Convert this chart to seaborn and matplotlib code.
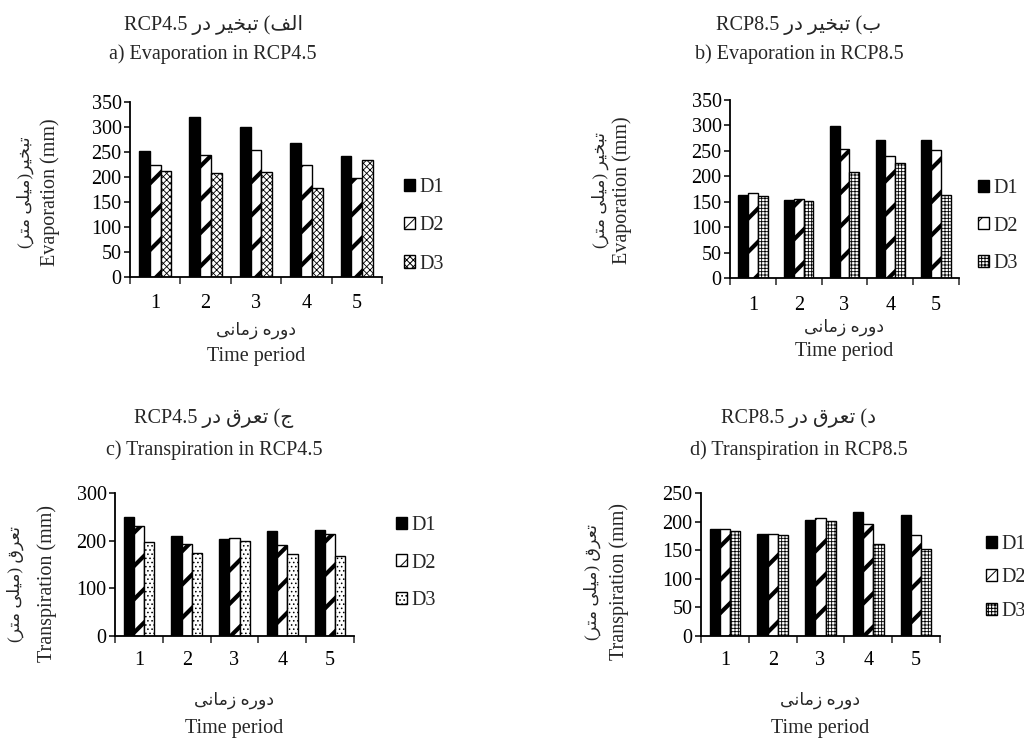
import numpy as np
import pandas as pd
import matplotlib
matplotlib.use("Agg")
import matplotlib.pyplot as plt
import seaborn as sns
from matplotlib.patches import Patch

# ---------------- data ----------------
periods = [1, 2, 3, 4, 5]
scenarios = ["D1", "D2", "D3"]

evap45_d1 = [252, 321, 301, 268, 243]
evap45_d2 = [225, 244, 254, 225, 198]
evap45_d3 = [213, 208, 210, 178, 234]

evap85_d1 = [164, 154, 299, 271, 272]
evap85_d2 = [167, 155, 253, 240, 251]
evap85_d3 = [161, 151, 209, 226, 164]

trans45_d1 = [249, 210, 204, 220, 222]
trans45_d2 = [231, 193, 206, 190, 215]
trans45_d3 = [197, 174, 200, 173, 167]

trans85_d1 = [187, 179, 203, 217, 211]
trans85_d2 = [187, 178, 207, 195, 176]
trans85_d3 = [184, 176, 201, 160, 152]

# ---------------- Persian shaping helpers ----------------
FORMS = {
    "ا": ("\uFE8D", "\uFE8E", None, None),
    "ب": ("\uFE8F", "\uFE90", "\uFE91", "\uFE92"),
    "ت": ("\uFE95", "\uFE96", "\uFE97", "\uFE98"),
    "ج": ("\uFE9D", "\uFE9E", "\uFE9F", "\uFEA0"),
    "خ": ("\uFEA5", "\uFEA6", "\uFEA7", "\uFEA8"),
    "د": ("\uFEA9", "\uFEAA", None, None),
    "ر": ("\uFEAD", "\uFEAE", None, None),
    "ز": ("\uFEAF", "\uFEB0", None, None),
    "ع": ("\uFEC9", "\uFECA", "\uFECB", "\uFECC"),
    "ف": ("\uFED1", "\uFED2", "\uFED3", "\uFED4"),
    "ق": ("\uFED5", "\uFED6", "\uFED7", "\uFED8"),
    "ل": ("\uFEDD", "\uFEDE", "\uFEDF", "\uFEE0"),
    "م": ("\uFEE1", "\uFEE2", "\uFEE3", "\uFEE4"),
    "ن": ("\uFEE5", "\uFEE6", "\uFEE7", "\uFEE8"),
    "ه": ("\uFEE9", "\uFEEA", "\uFEEB", "\uFEEC"),
    "و": ("\uFEED", "\uFEEE", None, None),
    "ی": ("\uFBFC", "\uFBFD", "\uFBFE", "\uFBFF"),
}


def shape(s):
    out = []
    n = len(s)
    for i, ch in enumerate(s):
        if ch not in FORMS:
            out.append(ch)
            continue
        f = FORMS[ch]
        prev_j = i > 0 and s[i - 1] in FORMS and FORMS[s[i - 1]][2] is not None
        next_j = (i < n - 1 and s[i + 1] in FORMS and f[2] is not None)
        if prev_j and next_j:
            out.append(f[3])
        elif prev_j:
            out.append(f[1])
        elif next_j:
            out.append(f[2])
        else:
            out.append(f[0])
    return "".join(out)


def rtl(s):
    """Visual (left-to-right) order of a purely right-to-left run."""
    v = shape(s)[::-1]
    return v.translate(str.maketrans({"(": ")", ")": "("}))


# ---------------- style ----------------
sns.set_style("ticks")
plt.rcParams["font.family"] = ["Liberation Serif", "DejaVu Sans"]
plt.rcParams["hatch.linewidth"] = 0.7
FS = 14.5
FAM = ["Liberation Serif", "DejaVu Sans"]

W, H = 1024, 738
fig = plt.figure(figsize=(W / 100, H / 100), dpi=100)
fig.patch.set_facecolor("white")


def fx(px):
    return px / W


def fy(py):
    return 1 - py / H


panels = [
    dict(d=(evap45_d1, evap45_d2, evap45_d3), box=(130, 102, 382, 277), ymax=350, step=50,
         d3hatch="xxxxx",
         t_fa="RCP4.5" + rtl("الف) تبخیر در "), t_en="a) Evaporation in RCP4.5",
         tx=213, ty=(25, 54),
         y_fa=rtl("تبخیر(میلی متر)"), y_en="Evaporation (mm)", yx=(25, 50), yy=192,
         xl_y=(330, 357), tick_y=304,
         leg=(404, 226), legsp=39),
    dict(d=(evap85_d1, evap85_d2, evap85_d3), box=(730, 100, 959, 278), ymax=350, step=50,
         d3hatch="+++++",
         t_fa="RCP8.5" + rtl("ب) تبخیر در "), t_en="b) Evaporation in RCP8.5",
         tx=799, ty=(25, 54),
         y_fa=rtl("تبخیر (میلی متر)"), y_en="Evaporation (mm)", yx=(600, 622), yy=190,
         xl_y=(327, 352), tick_y=306,
         leg=(978, 226), legsp=38.5),
    dict(d=(trans45_d1, trans45_d2, trans45_d3), box=(115, 493, 354, 636), ymax=300, step=100,
         d3hatch="....",
         t_fa="RCP4.5" + rtl("ج) تعرق در "), t_en="c) Transpiration in RCP4.5",
         tx=214, ty=(418, 450),
         y_fa=rtl("تعرق (میلی متر)"), y_en="Transpiration (mm)", yx=(15, 47), yy=584,
         xl_y=(700, 728), tick_y=661,
         leg=(396, 563), legsp=38.5),
    dict(d=(trans85_d1, trans85_d2, trans85_d3), box=(701, 493, 940, 636), ymax=250, step=50,
         d3hatch="+++++",
         t_fa="RCP8.5" + rtl("د) تعرق در "), t_en="d) Transpiration in RCP8.5",
         tx=799, ty=(418, 450),
         y_fa=rtl("تعرق (میلی متر)"), y_en="Transpiration (mm)", yx=(592, 619), yy=582,
         xl_y=(700, 728), tick_y=661,
         leg=(986, 578), legsp=34.5),
]

for p in panels:
    x0, y0, x1, y1 = p["box"]
    ax = fig.add_axes([fx(x0), fy(y1), (x1 - x0) / W, (y1 - y0) / H])
    d1, d2, d3 = p["d"]
    df = pd.DataFrame({
        "period": periods * 3,
        "scenario": [s for s in scenarios for _ in periods],
        "value": list(d1) + list(d2) + list(d3),
    })
    sns.barplot(data=df, x="period", y="value", hue="scenario", hue_order=scenarios,
                palette=["black", "white", "white"], saturation=1, edgecolor="black",
                linewidth=1.0, width=0.64, errorbar=None, legend=False, ax=ax)
    hatches = [None, "/", p["d3hatch"]]
    hlw = [0.7, 3.0, 0.6]
    for cont, h, lw in zip(ax.containers, hatches, hlw):
        for bar in cont:
            if h:
                bar.set_hatch(h)
                if hasattr(bar, "set_hatch_linewidth"):
                    bar.set_hatch_linewidth(lw)

    ax.set_xlim(-0.5, 4.5)
    ax.set_ylim(0, p["ymax"])
    ax.set_yticks(np.arange(0, p["ymax"] + 1, p["step"]))
    ax.set_xlabel("")
    ax.set_ylabel("")
    sns.despine(ax=ax)
    for s in ("left", "bottom"):
        ax.spines[s].set_linewidth(1.3)
        ax.spines[s].set_color("black")
    ax.set_facecolor("white")
    ax.tick_params(axis="y", direction="out", length=4, width=1.1, pad=2,
                   labelsize=FS, colors="black")
    ax.set_xticks(range(5))
    ax.set_xticklabels([str(v) for v in periods])
    ax.set_xticks(np.arange(-0.5, 5.0, 1.0), minor=True)
    ax.tick_params(axis="x", which="major", length=0, pad=0, labelsize=FS, colors="black")
    ax.tick_params(axis="x", which="minor", direction="out", length=5, width=1.1)
    pad_pt = (p["tick_y"] - y1 - 10) * 0.72
    ax.tick_params(axis="x", which="major", pad=pad_pt)
    for lab in ax.get_xticklabels() + ax.get_yticklabels():
        lab.set_family(FAM)

    # titles
    fig.text(fx(p["tx"]), fy(p["ty"][0]), p["t_fa"], ha="center", va="center",
             fontsize=FS, family=FAM)
    fig.text(fx(p["tx"]), fy(p["ty"][1]), p["t_en"], ha="center", va="center",
             fontsize=FS, family=FAM)
    # y labels
    fig.text(fx(p["yx"][0]), fy(p["yy"]), p["y_fa"], ha="center", va="center",
             rotation=90, fontsize=FS - 2, family=FAM)
    fig.text(fx(p["yx"][1]), fy(p["yy"]), p["y_en"], ha="center", va="center",
             rotation=90, fontsize=FS, family=FAM)
    # x labels
    xc = (x0 + x1) / 2
    fig.text(fx(xc), fy(p["xl_y"][0]), rtl("دوره زمانی"), ha="center", va="center",
             fontsize=FS - 2, family=FAM)
    fig.text(fx(xc), fy(p["xl_y"][1]), "Time period", ha="center", va="center",
             fontsize=FS, family=FAM)

    # legend
    handles = [Patch(facecolor="black", edgecolor="black", linewidth=1.0),
               Patch(facecolor="white", edgecolor="black", hatch="/", linewidth=1.0),
               Patch(facecolor="white", edgecolor="black", hatch=p["d3hatch"], linewidth=1.0)]
    leg = ax.legend(handles, scenarios, loc="center left",
                    bbox_to_anchor=(fx(p["leg"][0]), fy(p["leg"][1])),
                    bbox_transform=fig.transFigure, frameon=False, fontsize=FS,
                    handlelength=0.55, handleheight=0.55, handletextpad=0.2,
                    borderpad=0, borderaxespad=0,
                    labelspacing=(p["legsp"] - 20) / 20.0)
    for t in leg.get_texts():
        t.set_family(FAM)

fig.savefig("out.png", dpi=100, facecolor="white")
